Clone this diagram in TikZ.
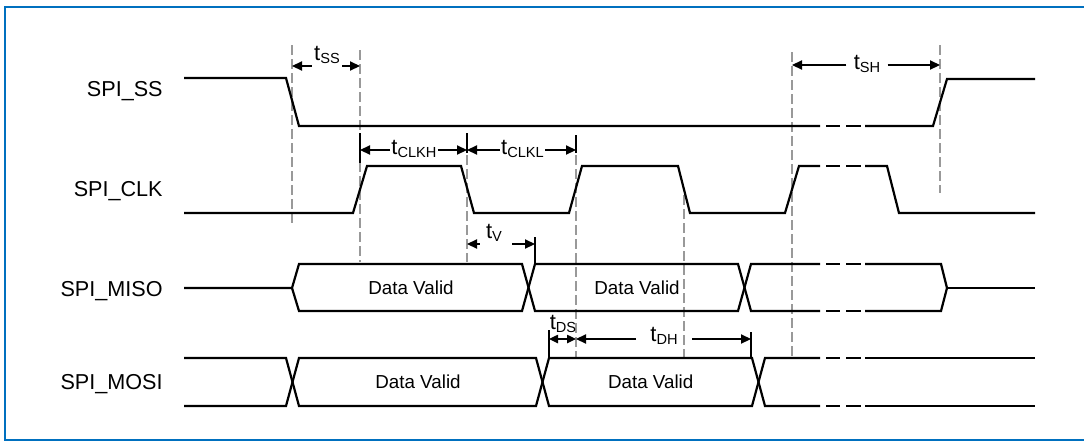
\documentclass[tikz,border=0pt]{standalone}
\usepackage{fontspec}
\setmainfont{Liberation Sans}
\usetikzlibrary{arrows.meta}
\newcommand{\tsub}[1]{t\raisebox{-1.2pt}{\fontsize{7.3}{8}\selectfont #1}}

\begin{document}
\begin{tikzpicture}[x=0.5pt,y=-0.5pt,
  sig/.style={line width=1.1pt},
  gridline/.style={draw=cgrid,line width=1.1pt,dash pattern=on 5pt off 2pt},
  edgetick/.style={line width=0.8pt},
  dimline/.style={line width=0.6pt,-{Triangle[length=5pt,width=4.6pt]}},
  siglabel/.style={font=\fontsize{10.8}{13}\selectfont,anchor=base east,inner sep=0pt},
  datalabel/.style={font=\fontsize{9.4}{11}\selectfont,anchor=base,inner sep=0pt},
  tlabel/.style={font=\fontsize{11}{12}\selectfont,inner ysep=0pt,inner xsep=1pt}]
\definecolor{cframe}{rgb}{0.0,0.44,0.75}
\definecolor{cgrid}{rgb}{0.6,0.6,0.6}
\useasboundingbox (0,0) rectangle (1084,441);
\draw[cframe,line width=1pt] (1084,7.3) -- (4.7,7.3) -- (4.7,439.5) -- (1084,439.5);
%
\node[siglabel] (ss) at (163,96.5) {SPI\_SS};
\node[siglabel] (clk) at (163,196) {SPI\_CLK};
\node[siglabel] (miso) at (163,296) {SPI\_MISO};
\node[siglabel] (mosi) at (163,389) {SPI\_MOSI};
%
\draw[gridline] (292,45) -- (292,225);
\draw[gridline] (360,50) -- (360,262);
\draw[gridline] (467,155) -- (467,262);
\draw[gridline] (576,155) -- (576,357);
\draw[gridline] (684,195) -- (684,357);
\draw[gridline] (792,52) -- (792,357);
\draw[gridline] (940,45) -- (940,193);
%
\draw[sig] (184,78) -- (286,78) -- (299,126) -- (820,126);
\draw[sig] (865,126) -- (933,126) -- (947,79) -- (1035,79);
\draw[sig] (184,213) -- (353,213) -- (367,166) -- (461,166) -- (474,213) -- (569,213)
  -- (582,166) -- (678,166) -- (690,213) -- (785,213) -- (799,166) -- (820,166);
\draw[sig] (865,166) -- (887,166) -- (899,213) -- (1035,213);
\draw[sig] (184,288) -- (292,288) -- (299,264) -- (522,264) -- (535,311) -- (738,311)
  -- (751,264) -- (820,264);
\draw[sig] (292,288) -- (299,311) -- (522,311) -- (535,264) -- (738,264) -- (751,311)
  -- (820,311);
\draw[sig] (865,264) -- (941,264) -- (947,288) -- (941,311) -- (865,311);
\draw[sig] (947,288) -- (1035,288);
\draw[sig] (184,358) -- (286,358) -- (299,406) -- (536,406) -- (549,358) -- (752,358)
  -- (765,406) -- (820,406);
\draw[sig] (184,406) -- (286,406) -- (299,358) -- (536,358) -- (549,406) -- (752,406)
  -- (765,358) -- (820,358);
\draw[sig] (865,358) -- (1035,358);
\draw[sig] (865,406) -- (1035,406);
\foreach \y in {126,166,264,311,358,406}
  \draw[sig] (826,\y) -- (840,\y) (846,\y) -- (861,\y);
%
\node[datalabel] (dv1) at (411,294.3) {Data Valid};
\node[datalabel] (dv2) at (637,294.3) {Data Valid};
\node[datalabel] (dv3) at (418,388.3) {Data Valid};
\node[datalabel] (dv4) at (650.7,388.3) {Data Valid};
%
\draw[edgetick] (360,133) -- (360,163);
\draw[edgetick] (467,133) -- (467,153);
\draw[edgetick] (576,135) -- (576,153);
\draw[edgetick] (535,237) -- (535,264);
\draw[edgetick] (549,330) -- (549,358);
\draw[edgetick] (751,332) -- (751,358);
%
\coordinate (tssA) at (292,66);
\coordinate (tssB) at (360,66);
\coordinate (tclkA) at (360,150);
\coordinate (tclkB) at (467,150);
\coordinate (tclkC) at (576,150);
\coordinate (tvA) at (467,244);
\coordinate (tvB) at (535,244);
\coordinate (tdsA) at (549,339);
\coordinate (tdsB) at (576,339);
\coordinate (tdhB) at (751,339);
\coordinate (tshA) at (792,65);
\coordinate (tshB) at (940,65);
%
\node[tlabel] (tss) at (327,55) {\tsub{SS}};
\node[tlabel,inner xsep=0.5pt] (tclkh) at (414,149) {\tsub{CLKH}};
\node[tlabel,inner xsep=0.5pt] (tclkl) at (522.5,149) {\tsub{CLKL}};
\node[tlabel,inner xsep=0pt] (tv) at (494,233) {\tsub{V}};
\node[tlabel,inner xsep=0pt] (tds) at (563,324) {\tsub{DS}};
\node[tlabel,inner xsep=7pt] (tdh) at (664,336) {\tsub{DH}};
\node[tlabel,inner xsep=3.5pt] (tsh) at (867,64) {\tsub{SH}};
%
\draw[dimline] (tss.west |- tssA) -- (tssA);
\draw[dimline] (tss.east |- tssB) -- (tssB);
\draw[dimline] (tclkh.west |- tclkA) -- (tclkA);
\draw[dimline] (tclkh.east |- tclkB) -- (tclkB);
\draw[dimline] (tclkl.west |- tclkB) -- (tclkB);
\draw[dimline] (tclkl.east |- tclkC) -- (tclkC);
\draw[dimline] ([xshift=-3pt]tv.west |- tvA) -- (tvA);
\draw[dimline] ([xshift=5pt]tv.east |- tvB) -- (tvB);
\draw[dimline,{Triangle[length=4.5pt,width=4.2pt]}-{Triangle[length=4.5pt,width=4.2pt]}] (tdsA) -- (tdsB);
\draw[dimline] (tdh.west |- tdsB) -- (tdsB);
\draw[dimline] (tdh.east |- tdhB) -- (tdhB);
\draw[dimline] (tsh.west |- tshA) -- (tshA);
\draw[dimline] (tsh.east |- tshB) -- (tshB);
%
\end{tikzpicture}
\end{document}
